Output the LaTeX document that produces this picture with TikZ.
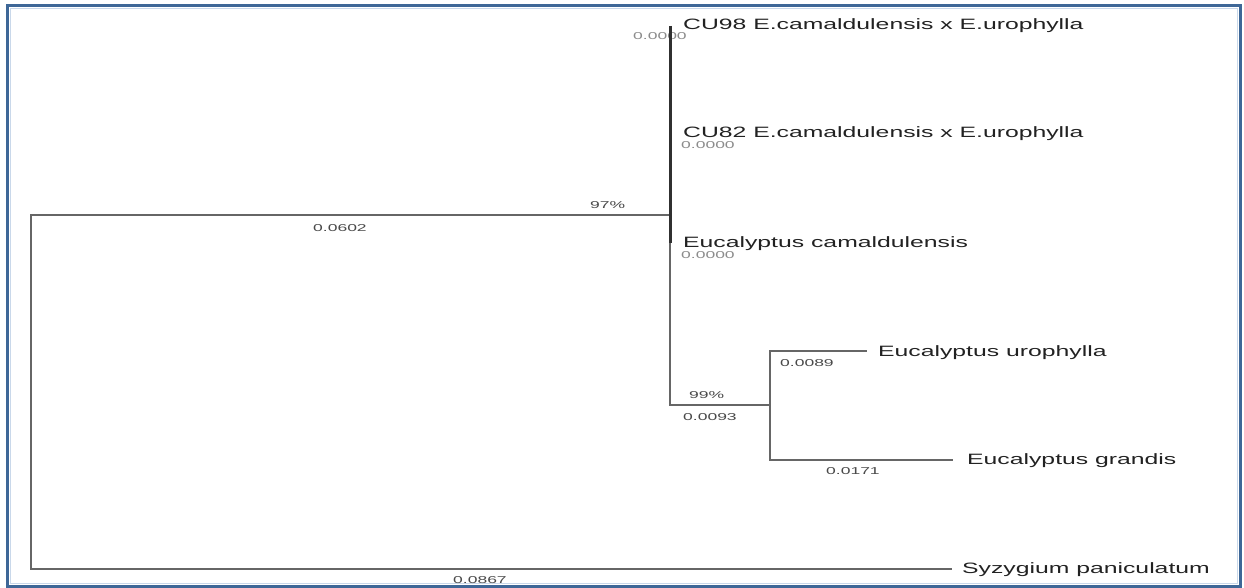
\documentclass[tikz,border=0pt]{standalone}
\usepackage{fontspec}
\setmainfont{Liberation Sans}
\usepackage{graphicx}
\newcommand{\wideT}[1]{\scalebox{1.65}[1]{#1}}
\newcommand{\wideS}[1]{\scalebox{1.75}[1]{#1}}
\definecolor{framecol}{HTML}{3E6797}
\definecolor{frameinner}{HTML}{C9D8EA}
\definecolor{taxcol}{HTML}{222222}
\definecolor{lencol}{HTML}{4A4A4A}
\definecolor{zerocol}{HTML}{8C8C8C}
\definecolor{branchcol}{HTML}{666666}
\definecolor{darkbranch}{HTML}{303030}
\begin{document}
\begin{tikzpicture}[x=1pt,y=-1pt,
  taxon/.style={anchor=base west, inner sep=0pt, text=taxcol, font=\fontsize{15}{15}\selectfont},
  blen/.style={anchor=base west, inner sep=0pt, text=lencol, font=\fontsize{10}{10}\selectfont},
  zerolen/.style={blen, text=zerocol},
  branch/.style={draw=branchcol, line width=2.2pt},
  thickbranch/.style={draw=darkbranch, line width=3pt}]
\useasboundingbox (0,0) rectangle (1244,588);
\fill[white] (0,0) rectangle (1244,588);

% frame
\draw[frameinner, line width=1pt] (10,9) rectangle (1237,583);
\draw[framecol, line width=3pt] (7,6) rectangle (1240,586);

% internal nodes and tips
\coordinate (root) at (31,392);
\coordinate (n97) at (670,215);
\coordinate (n97top) at (670,26);
\coordinate (camsplit) at (670,243);
\coordinate (n99) at (770,405);
\coordinate (urotip) at (867,351);
\coordinate (gratip) at (953,460);
\coordinate (syztip) at (952,569);

% branch lengths and support values
\node[zerolen] (l1) at (633,40) {\wideS{0.0000}};
\node[zerolen] (l2) at (681,149) {\wideS{0.0000}};
\node[zerolen] (l3) at (681,258) {\wideS{0.0000}};
\node[blen] (s97) at (590,208) {\wideS{97\%}};
\node[blen] (l602) at (313,231) {\wideS{0.0602}};
\node[blen] (s99) at (689,398) {\wideS{99\%}};
\node[blen] (l093) at (683,420) {\wideS{0.0093}};
\node[blen] (l089) at (780,366) {\wideS{0.0089}};
\node[blen] (l171) at (826,474) {\wideS{0.0171}};
\node[blen] (l867) at (453,583) {\wideS{0.0867}};

% taxa
\node[taxon] (cu98) at (683,30) {\wideT{CU98 E.camaldulensis x E.urophylla}};
\node[taxon] (cu82) at (683,138) {\wideT{CU82 E.camaldulensis x E.urophylla}};
\node[taxon] (ecam) at (683,247) {\wideT{Eucalyptus camaldulensis}};
\node[taxon] (euro) at (878,356) {\wideT{Eucalyptus urophylla}};
\node[taxon] (egra) at (967,464) {\wideT{Eucalyptus grandis}};
\node[taxon] (syz) at (962,573) {\wideT{Syzygium paniculatum}};

% branches
\draw[branch] (n97) -| (root);
\draw[branch] (root) |- (syztip);
\draw[branch] (camsplit) |- (n99);
\draw[branch] (n99) |- (urotip);
\draw[branch] (n99) |- (gratip);
\draw[thickbranch] (n97top) -- (camsplit);
\end{tikzpicture}
\end{document}
